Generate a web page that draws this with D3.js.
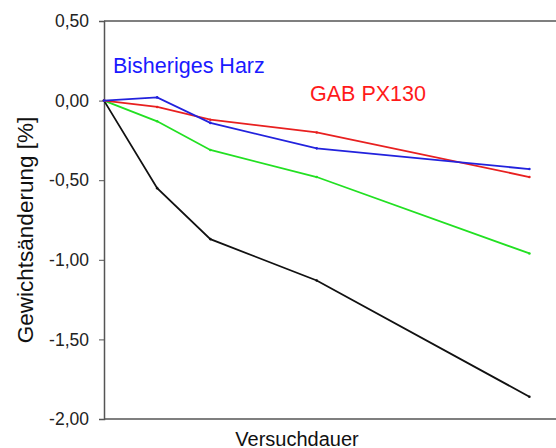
<!DOCTYPE html>
<html>
<head>
<meta charset="utf-8">
<style>
  html, body { margin: 0; padding: 0; background: #fff; }
  svg text { font-family: "Liberation Sans", Arial, sans-serif; }
</style>
<script src="https://cdnjs.cloudflare.com/ajax/libs/d3/7.8.5/d3.min.js"></script>
</head>
<body>
<svg id="chart" width="556" height="448"></svg>
<script>
  // test duration (relative steps, read from point spacing)
  var zeit = [0, 1, 2, 4, 8];

  var bisherigesHarz = [0, 0.02, -0.14, -0.30, -0.43];
  var gabPx130      = [0, -0.04, -0.12, -0.20, -0.48];
  var gruen         = [0, -0.13, -0.31, -0.48, -0.96];
  var schwarz       = [0, -0.55, -0.87, -1.13, -1.86];

  var yTicks = [0.5, 0, -0.5, -1, -1.5, -2];

  var svg = d3.select("#chart");

  var x = d3.scaleLinear().domain([0, 8.5]).range([104, 556]);
  var y = d3.scaleLinear().domain([-2, 0.5]).range([419, 21]);

  // frame: top and bottom lines
  svg.append("line").attr("x1", 104).attr("x2", 556).attr("y1", y(0.5)).attr("y2", y(0.5))
    .attr("stroke", "#555").attr("stroke-width", 1.5);
  svg.append("line").attr("x1", 104).attr("x2", 556).attr("y1", y(-2)).attr("y2", y(-2))
    .attr("stroke", "#555").attr("stroke-width", 1.5);

  var fmt = function (d) { return d3.format(".2f")(d).replace(".", ",").replace("−", "-"); };

  var yAxis = svg.append("g")
    .attr("transform", "translate(104,0)")
    .call(d3.axisLeft(y).tickValues(yTicks).tickFormat(fmt).tickSize(5).tickPadding(10));
  yAxis.attr("font-size", null).attr("font-family", null);
  yAxis.select(".domain").attr("stroke", "#555").attr("stroke-width", 1.5);
  yAxis.selectAll(".tick line").attr("stroke", "#555");
  yAxis.selectAll("text").attr("font-size", 17.5).attr("fill", "#222");

  var series = [
    { name: "schwarz", values: schwarz, color: "#111111" },
    { name: "gruen", values: gruen, color: "#22e022" },
    { name: "gab", values: gabPx130, color: "#e82020" },
    { name: "harz", values: bisherigesHarz, color: "#2222dd" }
  ];

  var line = d3.line()
    .x(function (d, i) { return x(zeit[i]); })
    .y(function (d) { return y(d); });

  series.forEach(function (s) {
    svg.append("path")
      .datum(s.values)
      .attr("d", line)
      .attr("fill", "none")
      .attr("stroke", s.color)
      .attr("stroke-width", 1.8);
    svg.selectAll(null).data(s.values).enter().append("circle")
      .attr("cx", function (d, i) { return x(zeit[i]); })
      .attr("cy", function (d) { return y(d); })
      .attr("r", 1.3)
      .attr("fill", s.color);
  });

  svg.append("text").attr("x", 113).attr("y", 73).attr("font-size", 21.5)
    .attr("fill", "#1a1aff").text("Bisheriges Harz");
  svg.append("text").attr("x", 310).attr("y", 101).attr("font-size", 21.5)
    .attr("fill", "#ff1a1a").text("GAB PX130");

  svg.append("text").attr("x", 297).attr("y", 446).attr("text-anchor", "middle")
    .attr("font-size", 20).attr("fill", "#111").text("Versuchdauer");
  svg.append("text")
    .attr("transform", "translate(33,230) rotate(-90)")
    .attr("text-anchor", "middle").attr("font-size", 22.5).attr("fill", "#111")
    .text("Gewichtsänderung [%]");
</script>
</body>
</html>
